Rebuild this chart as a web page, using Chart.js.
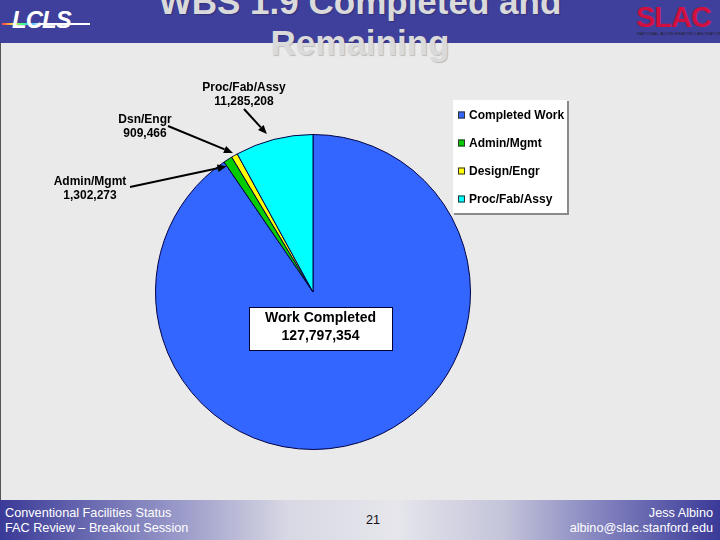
<!DOCTYPE html>
<html>
<head>
<meta charset="utf-8">
<script src="https://cdn.jsdelivr.net/npm/chart.js@4/dist/chart.umd.min.js"></script>
<style>
html,body{margin:0;padding:0;}
body{width:720px;height:540px;position:relative;overflow:hidden;background:#EAEAEA;font-family:"Liberation Sans",Arial,sans-serif;}
#header{position:absolute;left:0;top:0;width:720px;height:43px;background:#3F3F9C;}
#leftline{position:absolute;left:0;top:43px;width:1px;height:457px;background:#555;}
#footer{position:absolute;left:0;top:500px;width:720px;height:40px;
 background:linear-gradient(to right,#3A3A98 0%,#8E8EC4 22%,#D8D8E4 40%,#E6E6EC 55%,#C4C4DA 70%,#7C7CBC 85%,#3A3A98 100%);}
.ft{position:absolute;font-family:"Liberation Sans Narrow","Arial Narrow","Liberation Sans",sans-serif;font-size:12.7px;line-height:15px;color:#fff;white-space:nowrap;}
#title{position:absolute;left:0;top:0;width:720px;text-align:center;font-weight:bold;font-size:35px;color:#DADADA;text-shadow:1px 1px 1px rgba(0,0,0,0.2);}
#title div{position:absolute;left:0;width:720px;}
#lcls{position:absolute;left:12px;top:6px;font-style:italic;font-weight:bold;font-size:24px;color:#fff;letter-spacing:-1px;}
#lclsline{position:absolute;left:2px;top:23px;width:88px;height:2px;background:linear-gradient(to right,#ff4040,#ffd040,#40ff80,#40c0ff,#fff 45%,#fff);}
#slac{position:absolute;left:636px;top:1px;font-weight:bold;font-size:29px;color:#D01040;letter-spacing:-1px;}
#slacsub{position:absolute;left:637px;top:31px;font-size:4px;color:#222;white-space:nowrap;letter-spacing:0.3px;}
canvas{position:absolute;left:0;top:0;}
</style>
</head>
<body>
<div id="header"></div>
<div id="leftline"></div>
<div id="lclsline"></div>
<div id="lcls">LCLS</div>
<div id="slac">SLAC</div>
<div id="slacsub">NATIONAL ACCELERATOR LABORATORY</div>
<div id="title"><div style="top:-18px">WBS 1.9 Completed and</div><div style="top:23px">Remaining</div></div>
<div id="footer"></div>
<div class="ft" style="left:5px;top:506px;">Conventional Facilities Status<br>FAC Review – Breakout Session</div>
<div class="ft" style="left:366px;top:513px;color:#111;">21</div>
<div class="ft" style="right:7px;top:506px;text-align:right;">Jess Albino<br>albino@slac.stanford.edu</div>
<canvas id="c" width="720" height="540"></canvas>
<script>
// ---- data ----
const categories = ["Completed Work", "Admin/Mgmt", "Design/Engr", "Proc/Fab/Assy"];
const values = [127797354, 1302273, 909466, 11285208];
const sliceColors = ["#3366FF", "#00CC00", "#FFFF00", "#00FFFF"];
const calloutNames = ["Work Completed", "Admin/Mgmt", "Dsn/Engr", "Proc/Fab/Assy"];

const fmt = v => v.toLocaleString('en-US');

// callout label placement (text positions) and arrow geometry relative to slices
const callouts = [
  {i:1, lx:90, ly:182, sx:130, sy:187, dAng:-1.8, dr:-5},
  {i:2, lx:145, ly:120, sx:168, sy:126, dAng:0, dr:3},
  {i:3, lx:244, ly:88, sx:244, sy:109, dAng:-1.9, dr:7}
];

function arrow(ctx, x1, y1, x2, y2){
  const a = Math.atan2(y2-y1, x2-x1);
  const L = 9, W = 3.8;
  const bx = x2 - L*Math.cos(a), by = y2 - L*Math.sin(a);
  ctx.beginPath();
  ctx.moveTo(x1,y1); ctx.lineTo(bx,by);
  ctx.strokeStyle = "#000"; ctx.lineWidth = 2; ctx.stroke();
  ctx.beginPath();
  ctx.moveTo(x2,y2);
  ctx.lineTo(bx + W*Math.sin(a), by - W*Math.cos(a));
  ctx.lineTo(bx - W*Math.sin(a), by + W*Math.cos(a));
  ctx.closePath(); ctx.fillStyle = "#000"; ctx.fill();
}

const overlay = {
  id: 'overlay',
  afterDraw(chart){
    const ctx = chart.ctx;
    const meta = chart.getDatasetMeta(0);
    ctx.save();
    // callouts
    ctx.font = "bold 12px 'Liberation Sans', Arial, sans-serif";
    ctx.textAlign = "center"; ctx.textBaseline = "middle"; ctx.fillStyle = "#000";
    callouts.forEach(c => {
      const arc = meta.data[c.i];
      const p = arc.getProps(['x','y','startAngle','endAngle','outerRadius'], true);
      const ang = (p.startAngle + p.endAngle)/2 + c.dAng*Math.PI/180;
      const r = p.outerRadius + c.dr;
      ctx.fillStyle = "#000";
      ctx.fillText(calloutNames[c.i], c.lx, c.ly);
      ctx.fillText(fmt(values[c.i]), c.lx, c.ly + 14);
      arrow(ctx, c.sx, c.sy, p.x + r*Math.cos(ang), p.y + r*Math.sin(ang));
    });
    // Work Completed box
    const a0 = meta.data[0].getProps(['x','y'], true);
    const bx = a0.x - 64, by = a0.y + 15, bw = 143, bh = 43;
    ctx.fillStyle = "#fff"; ctx.fillRect(bx, by, bw, bh);
    ctx.strokeStyle = "#000033"; ctx.lineWidth = 1; ctx.strokeRect(bx+0.5, by+0.5, bw, bh);
    ctx.fillStyle = "#000";
    ctx.font = "bold 14px 'Liberation Sans', Arial, sans-serif";
    ctx.fillText(calloutNames[0], bx + bw/2, by + 11);
    ctx.fillText(fmt(values[0]), bx + bw/2, by + 29);
    // legend
    const lx = 453, ly = 100, lw = 114, lh = 113;
    ctx.fillStyle = "#fff"; ctx.fillRect(lx, ly, lw, lh);
    ctx.fillStyle = "#8a8a8a"; ctx.fillRect(lx+lw, ly+1, 2, lh+1); ctx.fillRect(lx+1, ly+lh, lw+1, 2);
    ctx.font = "bold 12px 'Liberation Sans', Arial, sans-serif";
    ctx.textAlign = "left";
    categories.forEach((name, k) => {
      const yy = 115 + k*28;
      ctx.fillStyle = sliceColors[k]; ctx.fillRect(458, yy-3.5, 7, 7);
      ctx.strokeStyle = "#333"; ctx.lineWidth = 1; ctx.strokeRect(458.5, yy-3, 6, 6);
      ctx.fillStyle = "#000"; ctx.fillText(name, 469, yy+0.5);
    });
    ctx.restore();
  }
};

new Chart(document.getElementById('c'), {
  type: 'pie',
  data: {
    labels: categories,
    datasets: [{
      data: values,
      backgroundColor: sliceColors,
      borderColor: "#000044",
      borderWidth: 1
    }]
  },
  options: {
    responsive: false,
    animation: false,
    layout: {padding: {left: 155, right: 249, top: 134, bottom: 90}},
    plugins: {legend: {display: false}, tooltip: {enabled: false}},
  },
  plugins: [overlay]
});
</script>
</body>
</html>
